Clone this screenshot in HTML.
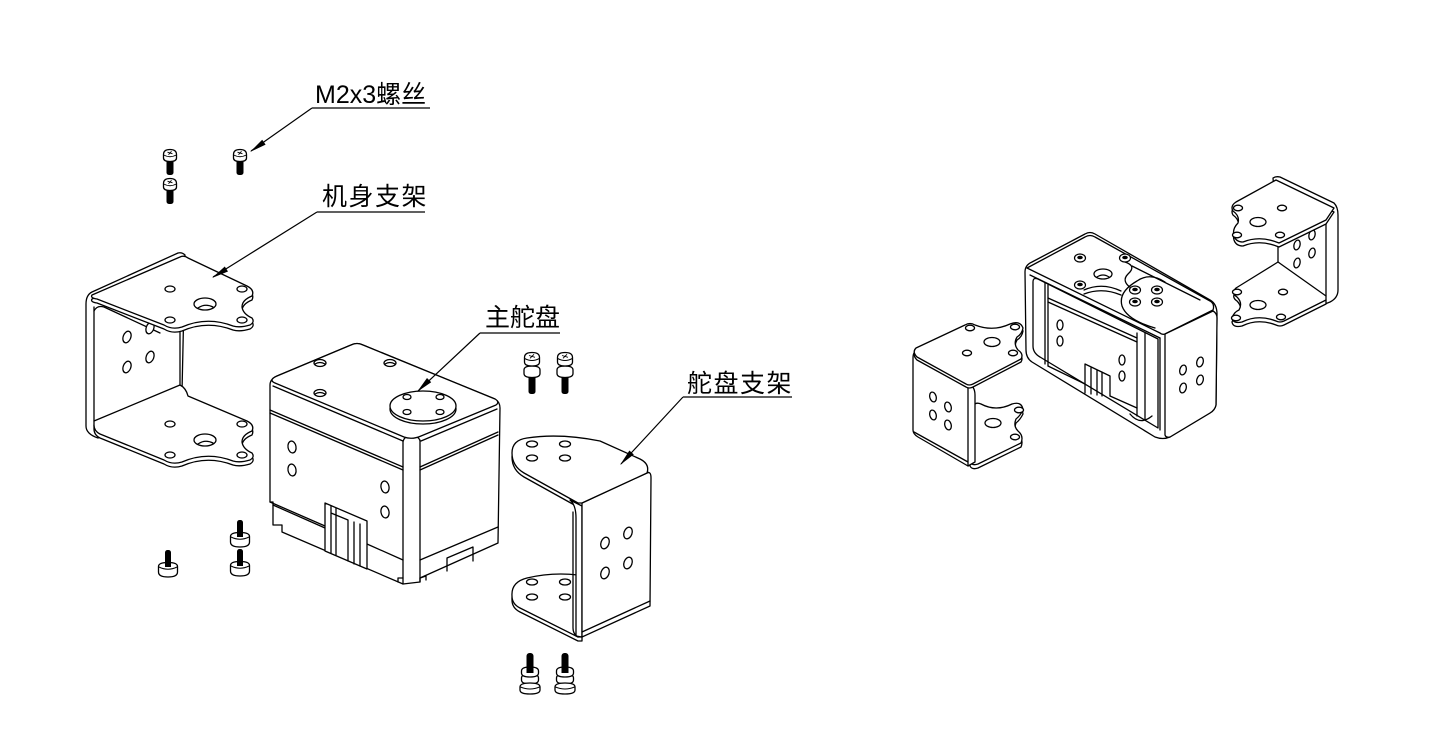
<!DOCTYPE html>
<html><head><meta charset="utf-8">
<style>
html,body{margin:0;padding:0;background:#fff;}
svg{display:block}
.t{font-family:"Liberation Sans","Noto Sans CJK SC",sans-serif;font-size:25px;fill:#000}
.k path,.k ellipse,.k rect{stroke:#000;stroke-width:1.3;stroke-linejoin:round;stroke-linecap:round}
.k{fill:#fff}
.n{fill:none}
</style></head><body>
<svg width="1431" height="740" viewBox="0 0 1431 740" xmlns="http://www.w3.org/2000/svg">
<defs>
 <g id="s1">
  <rect x="-3.5" y="7" width="7" height="17" rx="2.5" fill="#000" stroke="none"/>
  <path d="M-6.5,3.5 Q-6.5,-1.5 0,-1.5 Q6.5,-1.5 6.5,3.5 L6.5,7 Q6.5,10.5 0,10.5 Q-6.5,10.5 -6.5,7 Z" fill="#fff" stroke="#000" stroke-width="1.3"/>
  <path d="M-6.3,4 Q0,7.5 6.3,4" fill="none" stroke="#000" stroke-width="1"/>
  <path d="M-2.5,1.2 L2.5,2.8 M1.5,0.3 L-1.5,3.7" stroke="#000" stroke-width="0.9"/>
 </g>
 <g id="s2">
  <rect x="-3.5" y="18" width="7" height="22" rx="2.5" fill="#000" stroke="none"/>
  <path d="M-8,16 Q-8,12 0,12 Q8,12 8,16 L8,19.5 Q8,23.5 0,23.5 Q-8,23.5 -8,19.5 Z" fill="#fff" stroke="#000" stroke-width="1.3"/>
  <path d="M-7.5,3.5 Q-7.5,-1.5 0,-1.5 Q7.5,-1.5 7.5,3.5 L7.5,8 Q7.5,12 0,12 Q-7.5,12 -7.5,8 Z" fill="#fff" stroke="#000" stroke-width="1.3"/>
  <path d="M-7.3,4.5 Q0,8.5 7.3,4.5" fill="none" stroke="#000" stroke-width="1"/>
  <path d="M-3,1.5 L3,3.3 M2,0.3 L-2,4.3" stroke="#000" stroke-width="0.9"/>
 </g>
 <g id="s3">
  <rect x="-3.5" y="0" width="7" height="26" rx="3" fill="#000" stroke="none"/>
  <path d="M-8.5,25 Q-8.5,21 0,21 Q8.5,21 8.5,25 L8.5,27 Q8.5,31 0,31 Q-8.5,31 -8.5,27 Z" fill="#fff" stroke="#000" stroke-width="1.3"/>
  <path d="M-8.5,18 Q-8.5,14 0,14 Q8.5,14 8.5,18 L8.5,20 Q8.5,24 0,24 Q-8.5,24 -8.5,20 Z" fill="#fff" stroke="#000" stroke-width="1.3"/>
  <rect x="-3.5" y="12" width="7" height="8" fill="#000" stroke="none"/>
  <path d="M-10,34 Q-10,30 0,30 Q10,30 10,34 L10,37 Q10,41 0,41 Q-10,41 -10,37 Z" fill="#fff" stroke="#000" stroke-width="1.3"/>
  <path d="M-9.5,34 Q0,38 9.5,34" fill="none" stroke="#000" stroke-width="1"/>
 </g>
 <g id="s4">
  <rect x="-3" y="0" width="6" height="16" rx="2.5" fill="#000" stroke="none"/>
  <path d="M-9.5,16.5 Q-9.5,12.5 0,12.5 Q9.5,12.5 9.5,16.5 L9.5,22 Q9.5,27 0,27 Q-9.5,27 -9.5,22 Z" fill="#fff" stroke="#000" stroke-width="1.3"/>
  <path d="M-9,17 Q0,21.5 9,17" fill="none" stroke="#000" stroke-width="1"/>
  <rect x="-3" y="8" width="6" height="9" fill="#000" stroke="none"/>
 </g>
</defs>

<!-- ===== screws ===== -->
<use href="#s1" x="170" y="151"/>
<use href="#s1" x="170" y="180"/>
<use href="#s1" x="240" y="151"/>
<use href="#s2" x="532" y="354"/>
<use href="#s2" x="565" y="354"/>
<use href="#s3" x="530" y="653"/>
<use href="#s3" x="565" y="653"/>
<use href="#s4" x="240" y="520"/>
<use href="#s4" x="240" y="549"/>
<use href="#s4" x="168" y="550"/>

<!-- ===== left bracket 机身支架 ===== -->
<g class="k">
 <path d="M86,304 Q86,295 92,292 L178,253 Q182,252 185,255 L182,392 L98,438 Q86,434 86,426 Z"/>
 <path class="n" d="M94,307 L94,421"/>
 <path class="n" d="M94,311 Q97,305 104,307 L160,333"/>
 <ellipse cx="127" cy="337" rx="3.8" ry="6" transform="rotate(20 127 337)"/>
 <ellipse cx="150" cy="328" rx="3.8" ry="6" transform="rotate(20 150 328)"/>
 <ellipse cx="127" cy="367" rx="3.8" ry="6" transform="rotate(20 127 367)"/>
 <ellipse cx="150" cy="357" rx="3.8" ry="6" transform="rotate(20 150 357)"/>
 <path class="n" d="M180,330 L180,385"/>
 <path transform="translate(0,4)" d="M94,421 L180,385 Q186,388 188,396 L247,421 Q255,425 252,431 Q242,435 242,442 Q243,449 252,453 Q255,457 250,460 Q240,463 233,461 Q207,451 182,462 Q172,465 164,460 L100,434 Q94,431 94,425 Z"/>
 <path d="M94,421 L180,385 Q186,388 188,396 L247,421 Q255,425 252,431 Q242,435 242,442 Q243,449 252,453 Q255,457 250,460 Q240,463 233,461 Q207,451 182,462 Q172,465 164,460 L100,434 Q94,431 94,425 Z"/>
 <ellipse cx="170" cy="424" rx="5" ry="3"/>
 <ellipse cx="242" cy="424" rx="5" ry="3"/>
 <ellipse cx="170" cy="455" rx="5" ry="3"/>
 <ellipse cx="242" cy="455" rx="5" ry="3"/>
 <ellipse cx="205" cy="440" rx="11" ry="6"/>
 <path class="n" d="M198,444 Q205,439 213,443"/>
 <path transform="translate(0,4)" d="M92,295 L180,257 Q184,255 188,258 L247,286 Q255,290 252,296 Q242,300 242,307 Q243,314 252,318 Q255,322 250,325 Q240,328 233,326 Q207,316 182,327 Q172,330 164,325 L97,299 Q90,298 92,295 Z"/>
 <path d="M92,295 L180,257 Q184,255 188,258 L247,286 Q255,290 252,296 Q242,300 242,307 Q243,314 252,318 Q255,322 250,325 Q240,328 233,326 Q207,316 182,327 Q172,330 164,325 L97,299 Q90,298 92,295 Z"/>
 <ellipse cx="170" cy="289" rx="5" ry="3"/>
 <ellipse cx="242" cy="289" rx="5" ry="3"/>
 <ellipse cx="170" cy="320" rx="5" ry="3"/>
 <ellipse cx="242" cy="320" rx="5" ry="3"/>
 <ellipse cx="205" cy="304" rx="11" ry="6"/>
 <path class="n" d="M198,308 Q205,303 213,307"/>
</g>

<!-- ===== main servo ===== -->
<g class="k">
 <path d="M270,385 Q270,379 277,376 L351,345 Q357,342 363,345 L495,399 Q500,402 500,408 L498,543 L420,578 L420,582 L403,584 L282,532 L282,525 L273,525 L273,502 L270,502 Z"/>
 <path class="n" d="M273,386 L403,441 M421,441 L497,409"/>
 <path class="n" d="M270,410 L403,467 M270,413 L403,470 M420,467 L498,432 M420,470 L498,435"/>
 <path class="n" d="M270,502 L325,526 M367,544 L403,560 M273,505 L325,528 M420,560 L498,527"/>
 <path class="n" d="M403,441 L403,584 M420,440 L420,582 M403,442 Q404,436 411,436 Q419,436 420,441"/>
 <path class="n" d="M447,571 L447,558 L473,547 L473,561"/>
 <path d="M325,503 L367,521 L367,569 L325,551 Z"/>
 <path class="n" d="M331,506 L331,553 M336,508 L336,555 M331,513 L348,520 L348,561 M354,522 L354,564 M360,524 L360,566"/>
 <path class="n" d="M398,582 L398,578 L403,578 M420,578 L426,576 L426,580"/>
 <ellipse cx="292" cy="447" rx="4" ry="6" transform="rotate(-10 292 447)"/>
 <ellipse cx="292" cy="470" rx="4" ry="6" transform="rotate(-10 292 470)"/>
 <ellipse cx="385" cy="487" rx="4" ry="6" transform="rotate(-10 385 487)"/>
 <ellipse cx="385" cy="512" rx="4" ry="6" transform="rotate(-10 385 512)"/>
 <path d="M277,376 L351,345 Q357,342 363,345 L495,399 Q500,402 496,405 L421,436 Q412,440 404,437 L275,383 Q268,380 277,376 Z"/>
 <ellipse cx="320" cy="363" rx="6" ry="3.5"/>
 <ellipse cx="390" cy="363" rx="6" ry="3.5"/>
 <ellipse cx="320" cy="393" rx="6" ry="3.5"/>
 <path class="n" d="M315,364 Q320,361 325,364 M385,364 Q390,361 395,364 M315,394 Q320,391 325,394"/>
 <ellipse cx="423" cy="409" rx="33" ry="15"/>
 <ellipse cx="423" cy="406" rx="33" ry="15"/>
 <ellipse cx="407" cy="397" rx="4" ry="2.5"/>
 <ellipse cx="440" cy="397" rx="4" ry="2.5"/>
 <ellipse cx="407" cy="412" rx="4" ry="2.5"/>
 <ellipse cx="440" cy="412" rx="4" ry="2.5"/>
</g>

<!-- ===== 舵盘支架 ===== -->
<g class="k">
 <path transform="translate(0,4)" d="M512,596 Q511,582 527,578 Q552,572 578,575 L582,575 L582,637 L578,637 L520,608 Q512,604 512,596 Z"/>
 <path d="M512,596 Q511,582 527,578 Q552,572 578,575 L582,575 L582,637 L578,637 L520,608 Q512,604 512,596 Z"/>
 <ellipse cx="532" cy="582" rx="5.5" ry="3"/>
 <ellipse cx="565" cy="582" rx="5.5" ry="3"/>
 <ellipse cx="532" cy="597" rx="5.5" ry="3"/>
 <ellipse cx="565" cy="597" rx="5.5" ry="3"/>
 <path transform="translate(0,4)" d="M512,453 Q512,440 527,438 Q560,433 600,441 L640,459 Q650,464 647,473 L582,503 L578,503 L524,473 Q512,466 512,453 Z"/>
 <path d="M570,500 Q576,505 576,518 L576,636 L582,637 L582,506 Z"/>
 <path class="n" d="M573,512 L573,628 Q573,634 578,637"/>
 <path d="M582,503 L647,473 Q651,471 651,478 L650,606 L582,637 Z"/>
 <path class="n" d="M582,632 L650,601"/>
 <ellipse cx="605" cy="543" rx="4" ry="6" transform="rotate(20 605 543)"/>
 <ellipse cx="628" cy="533" rx="4" ry="6" transform="rotate(20 628 533)"/>
 <ellipse cx="605" cy="573" rx="4" ry="6" transform="rotate(20 605 573)"/>
 <ellipse cx="628" cy="563" rx="4" ry="6" transform="rotate(20 628 563)"/>
 <path d="M512,453 Q512,440 527,438 Q560,433 600,441 L640,459 Q650,464 647,473 L582,503 L578,503 L524,473 Q512,466 512,453 Z"/>
 <ellipse cx="532" cy="444" rx="5.5" ry="3"/>
 <ellipse cx="565" cy="444" rx="5.5" ry="3"/>
 <ellipse cx="532" cy="458" rx="5.5" ry="3"/>
 <ellipse cx="565" cy="458" rx="5.5" ry="3"/>
</g>

<!-- ===== right assembly: left bracket ===== -->
<g class="k">
 <path transform="translate(0,4)" d="M974,405 Q976,402 981,404 Q996,412 1012,404 Q1022,401 1023,410 Q1020,416 1016,419 Q1013,426 1018,431 Q1024,436 1021,443 L978,464 Q972,466 970,462 L970,407 Z"/>
 <path d="M974,405 Q976,402 981,404 Q996,412 1012,404 Q1022,401 1023,410 Q1020,416 1016,419 Q1013,426 1018,431 Q1024,436 1021,443 L978,464 Q972,466 970,462 L970,407 Z"/>
 <ellipse cx="1019" cy="410" rx="4.5" ry="2.8"/>
 <ellipse cx="993" cy="423" rx="8" ry="4.5"/>
 <ellipse cx="1015" cy="437" rx="4.5" ry="2.8"/>
 <path d="M913,358 Q913,350 919,351 L968,384 Q975,386 975,395 L975,462 L968,466 L918,437 Q913,434 913,430 Z"/>
 <path class="n" d="M968,385 L968,466 M914,432 L968,462"/>
 <ellipse cx="933" cy="397" rx="3.2" ry="5" transform="rotate(-15 933 397)"/>
 <ellipse cx="948" cy="407" rx="3.2" ry="5" transform="rotate(-15 948 407)"/>
 <ellipse cx="933" cy="415" rx="3.2" ry="5" transform="rotate(-15 933 415)"/>
 <ellipse cx="948" cy="425" rx="3.2" ry="5" transform="rotate(-15 948 425)"/>
 <path transform="translate(0,3)" d="M916,348 L965,325 Q970,322 975,325 Q993,332 1010,324 Q1020,320 1023,328 Q1022,334 1017,337 Q1013,344 1018,350 Q1024,354 1021,359 L973,384 Q969,386 966,384 L917,357 Q912,352 916,348 Z"/>
 <path d="M916,348 L965,325 Q970,322 975,325 Q993,332 1010,324 Q1020,320 1023,328 Q1022,334 1017,337 Q1013,344 1018,350 Q1024,354 1021,359 L973,384 Q969,386 966,384 L917,357 Q912,352 916,348 Z"/>
 <ellipse cx="970" cy="328" rx="4.5" ry="2.8"/>
 <ellipse cx="1015" cy="327" rx="4.5" ry="2.8"/>
 <ellipse cx="992" cy="342" rx="8" ry="4.5"/>
 <ellipse cx="967" cy="353" rx="4.5" ry="2.8"/>
 <ellipse cx="1013" cy="353" rx="4.5" ry="2.8"/>
</g>

<!-- ===== right assembly: center ===== -->
<g class="k">
 <path d="M1025,272 Q1025,265 1032,262 L1085,234 Q1090,231 1095,234 L1210,300 Q1217,304 1217,314 L1216,405 Q1215,410 1210,413 L1170,437 Q1163,440 1155,437 L1032,362 Q1026,358 1026,350 Z"/>
 <path d="M1033,282 Q1033,277 1038,279 L1158,339 L1158,428 L1040,357 Q1033,353 1033,346 Z"/>
 <path class="n" d="M1045,283 L1045,364 M1048,285 L1048,366"/>
 <path class="n" d="M1048,298 L1137,338 M1048,302 L1137,342"/>
 <path class="n" d="M1137,333 L1137,416 M1145,333 L1145,419"/>
 <path class="n" d="M1048,366 L1085,384 M1110,396 L1137,408"/>
 <path class="n" d="M1085,364 L1085,393 M1085,364 L1110,376 L1110,396 M1091,368 L1091,394 M1097,370 L1097,395 M1102,372 L1102,396"/>
 <path class="n" d="M1130,414 Q1140,426 1152,416"/>
 <ellipse cx="1060" cy="325" rx="3" ry="5"/>
 <ellipse cx="1060" cy="341" rx="3" ry="5"/>
 <ellipse cx="1122" cy="360" rx="3" ry="5"/>
 <ellipse cx="1122" cy="376" rx="3" ry="5"/>
 <path d="M1027,268 L1085,237 Q1090,234 1095,237 L1210,301 Q1215,304 1213,310 L1165,334 Q1162,335 1160,333 Z"/>
 <path class="n" d="M1030,275 L1160,338"/>
 <path d="M1165,334 L1213,311 Q1217,313 1217,318 L1216,405 Q1215,410 1210,413 L1170,437 Q1166,438 1165,435 Z"/>
 <path class="n" d="M1160,338 L1160,430"/>
 <ellipse cx="1183" cy="370" rx="3.2" ry="5" transform="rotate(15 1183 370)"/>
 <ellipse cx="1200" cy="362" rx="3.2" ry="5" transform="rotate(15 1200 362)"/>
 <ellipse cx="1183" cy="388" rx="3.2" ry="5" transform="rotate(15 1183 388)"/>
 <ellipse cx="1200" cy="380" rx="3.2" ry="5" transform="rotate(15 1200 380)"/>
 <ellipse cx="1103" cy="274" rx="9" ry="5"/>
 <path class="n" d="M1097,277 Q1103,273 1109,277"/>
 <path class="n" d="M1125,262 Q1137,266 1128,274 Q1121,281 1131,288"/>
 <path class="n" d="M1084,290 Q1102,282 1121,291 M1084,294 Q1102,287 1121,295"/>
 <path class="n" d="M1165,282 Q1150,272 1137,281 Q1118,292 1122,306 Q1127,320 1155,328"/>
 <path class="n" d="M1132,266 L1200,300"/>
</g>
<g stroke="#000" stroke-width="1.2">
 <g fill="#fff">
  <ellipse cx="1080" cy="258" rx="5.5" ry="4"/>
  <ellipse cx="1125" cy="258" rx="5.5" ry="4"/>
  <ellipse cx="1080" cy="285" rx="5.5" ry="4"/>
  <ellipse cx="1135" cy="290" rx="5.5" ry="4"/>
  <ellipse cx="1157" cy="290" rx="5.5" ry="4"/>
  <ellipse cx="1135" cy="302" rx="5.5" ry="4"/>
  <ellipse cx="1157" cy="302" rx="5.5" ry="4"/>
 </g>
 <g fill="#000" stroke="none">
  <ellipse cx="1080" cy="257.5" rx="2.8" ry="1.8"/>
  <ellipse cx="1125" cy="257.5" rx="2.8" ry="1.8"/>
  <ellipse cx="1080" cy="284.5" rx="2.8" ry="1.8"/>
  <ellipse cx="1135" cy="289.5" rx="2.8" ry="1.8"/>
  <ellipse cx="1157" cy="289.5" rx="2.8" ry="1.8"/>
  <ellipse cx="1135" cy="301.5" rx="2.8" ry="1.8"/>
  <ellipse cx="1157" cy="301.5" rx="2.8" ry="1.8"/>
 </g>
</g>

<!-- ===== right assembly: right bracket ===== -->
<g class="k">
 <path d="M1273,178 Q1276,176 1280,177 L1334,203 Q1338,207 1338,215 L1338,290 Q1338,298 1330,302 L1325,304 L1278,262 L1278,243 Z"/>
 <path class="n" d="M1326,220 L1326,296"/>
 <ellipse cx="1297" cy="245" rx="3" ry="5" transform="rotate(15 1297 245)"/>
 <ellipse cx="1312" cy="235" rx="3" ry="5" transform="rotate(15 1312 235)"/>
 <ellipse cx="1297" cy="263" rx="3" ry="5" transform="rotate(15 1297 263)"/>
 <ellipse cx="1312" cy="253" rx="3" ry="5" transform="rotate(15 1312 253)"/>
 <path transform="translate(0,4)" d="M1278,262 L1326,296 L1326,300 L1284,321 Q1280,323 1276,321 Q1258,314 1242,322 Q1233,324 1232,318 Q1234,312 1239,310 Q1243,303 1237,297 Q1231,293 1236,288 Z"/>
 <path d="M1278,262 L1326,296 L1326,300 L1284,321 Q1280,323 1276,321 Q1258,314 1242,322 Q1233,324 1232,318 Q1234,312 1239,310 Q1243,303 1237,297 Q1231,293 1236,288 Z"/>
 <ellipse cx="1237" cy="292" rx="4.5" ry="2.8"/>
 <ellipse cx="1283" cy="292" rx="4.5" ry="2.8"/>
 <ellipse cx="1258" cy="305" rx="8" ry="4.5"/>
 <ellipse cx="1236" cy="318" rx="4.5" ry="2.8"/>
 <ellipse cx="1281" cy="317" rx="4.5" ry="2.8"/>
 <path transform="translate(0,4)" d="M1276,180 L1236,202 Q1230,206 1233,211 Q1240,216 1238,223 Q1232,229 1234,236 Q1236,242 1243,242 Q1260,235 1279,243 L1326,220 L1334,208 Z"/>
 <path d="M1276,180 L1236,202 Q1230,206 1233,211 Q1240,216 1238,223 Q1232,229 1234,236 Q1236,242 1243,242 Q1260,235 1279,243 L1326,220 L1334,208 Z"/>
 <ellipse cx="1238" cy="208" rx="4.5" ry="2.8"/>
 <ellipse cx="1282" cy="208" rx="4.5" ry="2.8"/>
 <ellipse cx="1258" cy="222" rx="8" ry="4.5"/>
 <ellipse cx="1237" cy="235" rx="4.5" ry="2.8"/>
 <ellipse cx="1280" cy="235" rx="4.5" ry="2.8"/>
</g>

<!-- ===== labels (on top) ===== -->
<text class="t" x="315" y="103">M2x3螺丝</text>
<text class="t" x="322" y="205" letter-spacing="1.5">机身支架</text>
<text class="t" x="485" y="326">主舵盘</text>
<text class="t" x="687" y="392" letter-spacing="1.5">舵盘支架</text>
<g stroke="#000" stroke-width="1.2" fill="none">
 <path d="M312,108 L430,108 M312,108 L251,151"/>
 <path d="M317,212 L425,212 M317,212 L213,277"/>
 <path d="M480,333 L560,333 M480,333 L418,391"/>
 <path d="M683,397 L792,397 M683,397 L621,464"/>
</g>
<g fill="#000">
 <polygon points="250,152 265.6,144.6 262.2,139.7"/>
 <polygon points="212,278 228,271.5 224.8,266.5"/>
 <polygon points="417,392 431.2,382.2 427,378"/>
 <polygon points="620,465 633.8,454.5 629.4,450.5"/>
</g>
</svg>
</body></html>
